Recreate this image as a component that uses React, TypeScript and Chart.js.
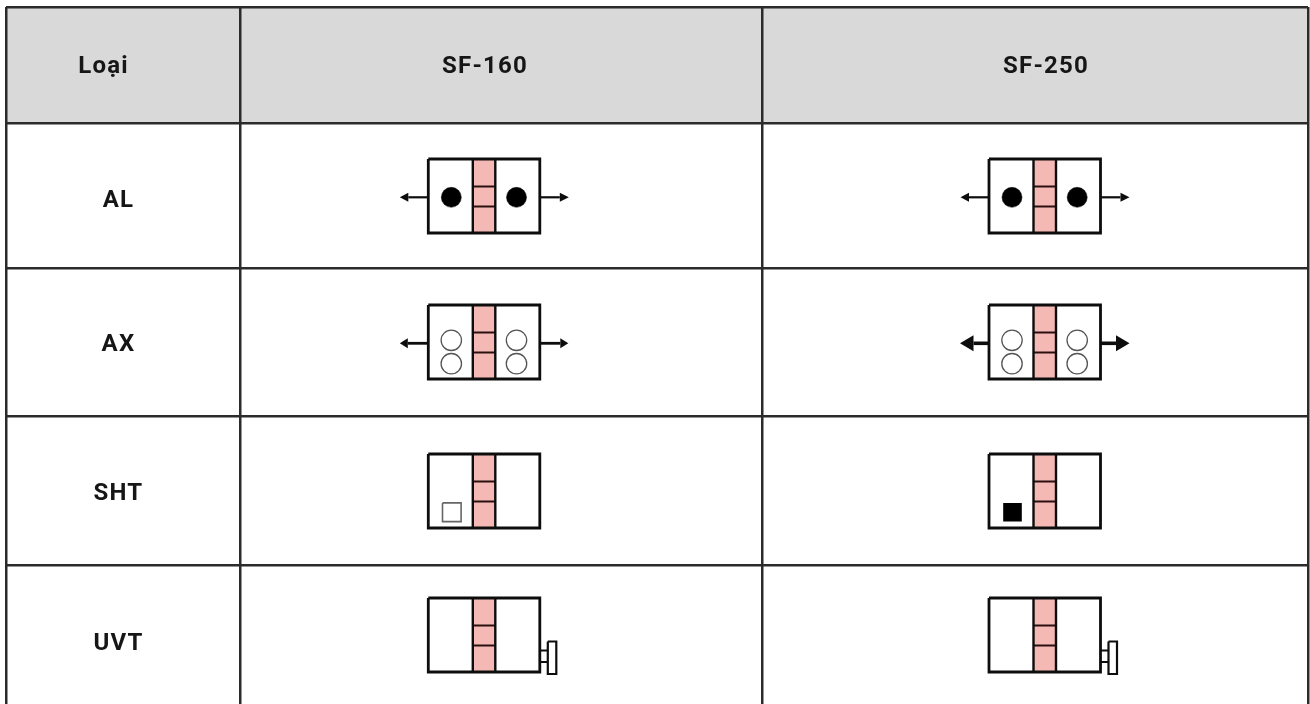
import React, { useEffect, useRef } from "react";
import { Chart, registerables } from "chart.js";

Chart.register(...registerables);

// ---- table content ----
const headerLabels = ["Loại", "SF-160", "SF-250"];
const rowLabels = ["AL", "AX", "SHT", "UVT"];
const accessories: Record<string, string[]> = {
  AL: ["alarm", "alarm"],
  AX: ["aux", "auxBold"],
  SHT: ["shunt", "shuntFilled"],
  UVT: ["uvt", "uvt"],
};

// ---- layout ----
const WIDTH = 1310;
const HEIGHT = 704;
const columnEdges = [6, 240, 762, 1308];
const rowEdges = [7, 123.5, 268, 416, 565];
const headerCenterX = [103.5, 485, 1046];
const headerCenterY = 67;
const rowLabelX = 118.5;
const rowCenterY = [201, 345, 494, 644];
const symbolLeft = [428.3, 989];
const symbolTop = [159, 305, 454, 598];
const boxW = 111.5;
const boxH = 74;
const bandX = [44.5, 67];
const dividerY = [27.5, 47.5];

const INK = "#0d0d0d";
const PINK = "#f4b9b5";
const GRAY = "#d9d9d9";
const RULE = "#2b2b2b";

type Pt = { x: number; y: number };
const datasets: any[] = [];

function poly(points: Pt[], fill: string | null, stroke: string | null, width = 0) {
  datasets.push({
    data: points,
    showLine: true,
    pointRadius: 0,
    fill: fill ? "shape" : false,
    backgroundColor: fill ?? "transparent",
    borderColor: stroke ?? "transparent",
    borderWidth: stroke ? width : 0,
    borderJoinStyle: "miter",
    borderCapStyle: "butt",
    tension: 0,
  });
}
const rectPts = (x0: number, y0: number, x1: number, y1: number): Pt[] => [
  { x: x0, y: y0 },
  { x: x1, y: y0 },
  { x: x1, y: y1 },
  { x: x0, y: y1 },
  { x: x0, y: y0 },
];
function dots(points: Pt[], radius: number, fill: string, stroke: string, width: number) {
  datasets.push({
    data: points,
    showLine: false,
    pointStyle: "circle",
    pointRadius: radius,
    pointBackgroundColor: fill,
    pointBorderColor: stroke,
    pointBorderWidth: width,
  });
}
function arrow(fromX: number, y: number, dir: number, shaft: number, head: number, half: number, w: number) {
  const baseX = fromX + dir * shaft;
  poly([{ x: fromX, y }, { x: baseX, y }], null, INK, w);
  poly(
    [
      { x: baseX, y: y - half },
      { x: baseX + dir * head, y },
      { x: baseX, y: y + half },
      { x: baseX, y: y - half },
    ],
    INK,
    null
  );
}

function drawSymbol(kind: string, x: number, y: number) {
  poly(rectPts(x, y, x + boxW, y + boxH), "#ffffff", null);
  poly(rectPts(x + bandX[0], y, x + bandX[1], y + boxH), PINK, null);
  if (kind === "alarm") {
    dots(
      [
        { x: x + 23, y: y + 38.3 },
        { x: x + 88.2, y: y + 38.3 },
      ],
      10,
      "#000000",
      "#000000",
      0.5
    );
    arrow(x, y + 38.3, -1, 20, 8.5, 4.5, 2.2);
    arrow(x + boxW, y + 38.3, 1, 20, 9, 4.5, 2.2);
  }
  if (kind === "aux" || kind === "auxBold") {
    const pts: Pt[] = [];
    for (const dx of [23, 88.2]) for (const dy of [35.3, 58.7]) pts.push({ x: x + dx, y: y + dy });
    dots(pts, 10.2, "#ffffff", "#555555", 1.3);
    const bold = kind === "auxBold";
    const shaft = bold ? 15.5 : 20.5;
    const head = bold ? 13.5 : 8;
    const half = bold ? 8 : 5;
    const w = bold ? 3.6 : 2.8;
    arrow(x, y + 38.3, -1, shaft, head, half, w);
    arrow(x + boxW, y + 38.3, 1, shaft, head, half, w);
  }
  if (kind === "shunt") poly(rectPts(x + 14.2, y + 48.9, x + 32.8, y + 67.6), "#ffffff", "#666666", 1.6);
  if (kind === "shuntFilled") poly(rectPts(x + 14.2, y + 49, x + 32.8, y + 67.6), "#000000", null);
  if (kind === "uvt") {
    poly([{ x: x + boxW, y: y + 52.5 }, { x: x + boxW + 8, y: y + 52.5 }], null, INK, 2);
    poly([{ x: x + boxW, y: y + 64 }, { x: x + boxW + 8, y: y + 64 }], null, INK, 2);
    poly(rectPts(x + 119.5, y + 43.5, x + 128, y + 76), "#ffffff", INK, 2.2);
  }
  for (const dy of dividerY) {
    poly([{ x: x + bandX[0], y: y + dy }, { x: x + bandX[1], y: y + dy }], null, "#2a0f0f", 2);
  }
  for (const bx of bandX) {
    poly([{ x: x + bx, y }, { x: x + bx, y: y + boxH }], null, INK, 2.4);
  }
  poly(rectPts(x, y, x + boxW, y + boxH), null, INK, 2.8);
}

// header background
poly(rectPts(columnEdges[0], rowEdges[0], columnEdges[3], rowEdges[1]), GRAY, null);
rowLabels.forEach((row, r) => {
  accessories[row].forEach((kind, c) => drawSymbol(kind, symbolLeft[c], symbolTop[r]));
});
datasets.forEach((d, i) => (d.order = datasets.length - i));

const tableText = {
  id: "tableText",
  afterDraw(chart: any) {
    const { ctx, scales } = chart;
    const xs = scales.x;
    const ys = scales.y;
    ctx.save();
    ctx.fillStyle = "#161616";
    ctx.textAlign = "center";
    ctx.textBaseline = "middle";
    ctx.font = '700 24px Roboto, "Noto Sans", sans-serif';
    ctx.letterSpacing = "1.2px";
    headerLabels.forEach((t, i) => {
      ctx.fillText(t, xs.getPixelForValue(headerCenterX[i]), ys.getPixelForValue(headerCenterY));
    });
    rowLabels.forEach((t, i) => {
      ctx.fillText(t, xs.getPixelForValue(rowLabelX), ys.getPixelForValue(rowCenterY[i]));
    });
    ctx.restore();
  },
};

export default function App() {
  const ref = useRef<HTMLCanvasElement>(null);
  useEffect(() => {
    document.body.style.margin = "0";
    const chart = new Chart(ref.current as HTMLCanvasElement, {
      type: "scatter",
      data: { datasets },
      plugins: [tableText],
      options: {
        animation: false,
        responsive: false,
        events: [],
        layout: {
          autoPadding: false,
          padding: { left: columnEdges[0], top: rowEdges[0], right: WIDTH - columnEdges[3], bottom: 0 },
        },
        plugins: { legend: { display: false }, tooltip: { enabled: false } },
        scales: {
          x: {
            type: "linear",
            min: columnEdges[0],
            max: columnEdges[3],
            afterBuildTicks: (s: any) => {
              s.ticks = columnEdges.map((value) => ({ value }));
            },
            ticks: { display: false, autoSkip: false },
            border: { display: false },
            grid: { color: RULE, lineWidth: 2.5, drawTicks: false, z: 1 },
          },
          y: {
            type: "linear",
            reverse: true,
            min: rowEdges[0],
            max: HEIGHT,
            afterBuildTicks: (s: any) => {
              s.ticks = rowEdges.map((value) => ({ value }));
            },
            ticks: { display: false, autoSkip: false },
            border: { display: false },
            grid: { color: RULE, lineWidth: 2.5, drawTicks: false, z: 1 },
          },
        },
      } as any,
    });
    return () => chart.destroy();
  }, []);
  return (
    <canvas
      ref={ref}
      width={WIDTH}
      height={HEIGHT}
      style={{ position: "fixed", left: 0, top: 0, display: "block", background: "#ffffff" }}
    />
  );
}
